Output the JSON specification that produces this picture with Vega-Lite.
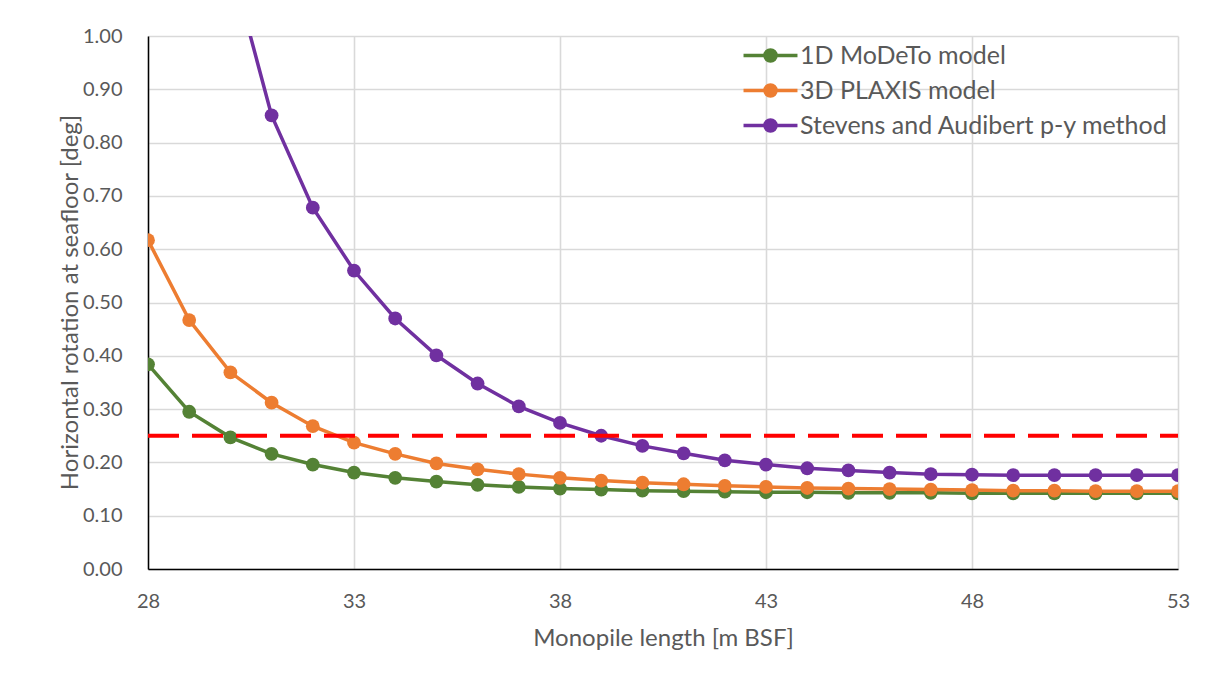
{
  "$schema": "https://vega.github.io/schema/vega-lite/v6.json",
  "width": 1030,
  "height": 533,
  "autosize": "none",
  "padding": {"left": 148, "top": 36, "right": 33, "bottom": 111},
  "background": "white",
  "config": {
    "font": "Lato",
    "view": {"stroke": null},
    "axis": {
      "labelFont": "Lato",
      "labelFontSize": 20,
      "labelColor": "#595959",
      "labelFlush": false,
      "labelOverlap": false,
      "titleFont": "Lato",
      "titleFontSize": 24,
      "titleFontWeight": "normal",
      "titleColor": "#595959",
      "gridColor": "#D9D9D9",
      "gridWidth": 1.6,
      "domainColor": "#000000",
      "domainWidth": 1.5,
      "ticks": false,
      "tickSize": 0
    },
    "legend": {
      "labelFont": "Lato",
      "labelFontSize": 25,
      "labelColor": "#595959",
      "labelLimit": 500
    }
  },
  "datasets": {
    "series": [
      {"length": 28, "model": "1D MoDeTo model", "rotation": 0.384},
      {"length": 29, "model": "1D MoDeTo model", "rotation": 0.295},
      {"length": 30, "model": "1D MoDeTo model", "rotation": 0.247},
      {"length": 31, "model": "1D MoDeTo model", "rotation": 0.216},
      {"length": 32, "model": "1D MoDeTo model", "rotation": 0.196},
      {"length": 33, "model": "1D MoDeTo model", "rotation": 0.181},
      {"length": 34, "model": "1D MoDeTo model", "rotation": 0.171},
      {"length": 35, "model": "1D MoDeTo model", "rotation": 0.164},
      {"length": 36, "model": "1D MoDeTo model", "rotation": 0.158},
      {"length": 37, "model": "1D MoDeTo model", "rotation": 0.154},
      {"length": 38, "model": "1D MoDeTo model", "rotation": 0.151},
      {"length": 39, "model": "1D MoDeTo model", "rotation": 0.149},
      {"length": 40, "model": "1D MoDeTo model", "rotation": 0.147},
      {"length": 41, "model": "1D MoDeTo model", "rotation": 0.146},
      {"length": 42, "model": "1D MoDeTo model", "rotation": 0.145},
      {"length": 43, "model": "1D MoDeTo model", "rotation": 0.144},
      {"length": 44, "model": "1D MoDeTo model", "rotation": 0.144},
      {"length": 45, "model": "1D MoDeTo model", "rotation": 0.143},
      {"length": 46, "model": "1D MoDeTo model", "rotation": 0.143},
      {"length": 47, "model": "1D MoDeTo model", "rotation": 0.143},
      {"length": 48, "model": "1D MoDeTo model", "rotation": 0.142},
      {"length": 49, "model": "1D MoDeTo model", "rotation": 0.142},
      {"length": 50, "model": "1D MoDeTo model", "rotation": 0.142},
      {"length": 51, "model": "1D MoDeTo model", "rotation": 0.142},
      {"length": 52, "model": "1D MoDeTo model", "rotation": 0.142},
      {"length": 53, "model": "1D MoDeTo model", "rotation": 0.142},
      {"length": 28, "model": "3D PLAXIS model", "rotation": 0.617},
      {"length": 29, "model": "3D PLAXIS model", "rotation": 0.467},
      {"length": 30, "model": "3D PLAXIS model", "rotation": 0.369},
      {"length": 31, "model": "3D PLAXIS model", "rotation": 0.312},
      {"length": 32, "model": "3D PLAXIS model", "rotation": 0.268},
      {"length": 33, "model": "3D PLAXIS model", "rotation": 0.237},
      {"length": 34, "model": "3D PLAXIS model", "rotation": 0.216},
      {"length": 35, "model": "3D PLAXIS model", "rotation": 0.198},
      {"length": 36, "model": "3D PLAXIS model", "rotation": 0.187},
      {"length": 37, "model": "3D PLAXIS model", "rotation": 0.178},
      {"length": 38, "model": "3D PLAXIS model", "rotation": 0.171},
      {"length": 39, "model": "3D PLAXIS model", "rotation": 0.166},
      {"length": 40, "model": "3D PLAXIS model", "rotation": 0.162},
      {"length": 41, "model": "3D PLAXIS model", "rotation": 0.159},
      {"length": 42, "model": "3D PLAXIS model", "rotation": 0.156},
      {"length": 43, "model": "3D PLAXIS model", "rotation": 0.154},
      {"length": 44, "model": "3D PLAXIS model", "rotation": 0.152},
      {"length": 45, "model": "3D PLAXIS model", "rotation": 0.151},
      {"length": 46, "model": "3D PLAXIS model", "rotation": 0.150},
      {"length": 47, "model": "3D PLAXIS model", "rotation": 0.149},
      {"length": 48, "model": "3D PLAXIS model", "rotation": 0.148},
      {"length": 49, "model": "3D PLAXIS model", "rotation": 0.147},
      {"length": 50, "model": "3D PLAXIS model", "rotation": 0.147},
      {"length": 51, "model": "3D PLAXIS model", "rotation": 0.146},
      {"length": 52, "model": "3D PLAXIS model", "rotation": 0.146},
      {"length": 53, "model": "3D PLAXIS model", "rotation": 0.146},
      {"length": 30, "model": "Stevens and Audibert p-y method", "rotation": 1.14},
      {"length": 31, "model": "Stevens and Audibert p-y method", "rotation": 0.851},
      {"length": 32, "model": "Stevens and Audibert p-y method", "rotation": 0.678},
      {"length": 33, "model": "Stevens and Audibert p-y method", "rotation": 0.560},
      {"length": 34, "model": "Stevens and Audibert p-y method", "rotation": 0.470},
      {"length": 35, "model": "Stevens and Audibert p-y method", "rotation": 0.401},
      {"length": 36, "model": "Stevens and Audibert p-y method", "rotation": 0.348},
      {"length": 37, "model": "Stevens and Audibert p-y method", "rotation": 0.305},
      {"length": 38, "model": "Stevens and Audibert p-y method", "rotation": 0.274},
      {"length": 39, "model": "Stevens and Audibert p-y method", "rotation": 0.250},
      {"length": 40, "model": "Stevens and Audibert p-y method", "rotation": 0.231},
      {"length": 41, "model": "Stevens and Audibert p-y method", "rotation": 0.217},
      {"length": 42, "model": "Stevens and Audibert p-y method", "rotation": 0.204},
      {"length": 43, "model": "Stevens and Audibert p-y method", "rotation": 0.196},
      {"length": 44, "model": "Stevens and Audibert p-y method", "rotation": 0.189},
      {"length": 45, "model": "Stevens and Audibert p-y method", "rotation": 0.185},
      {"length": 46, "model": "Stevens and Audibert p-y method", "rotation": 0.181},
      {"length": 47, "model": "Stevens and Audibert p-y method", "rotation": 0.178},
      {"length": 48, "model": "Stevens and Audibert p-y method", "rotation": 0.177},
      {"length": 49, "model": "Stevens and Audibert p-y method", "rotation": 0.176},
      {"length": 50, "model": "Stevens and Audibert p-y method", "rotation": 0.176},
      {"length": 51, "model": "Stevens and Audibert p-y method", "rotation": 0.176},
      {"length": 52, "model": "Stevens and Audibert p-y method", "rotation": 0.176},
      {"length": 53, "model": "Stevens and Audibert p-y method", "rotation": 0.176}
    ],
    "limit": [
      {"length": 28, "rotation": 0.25},
      {"length": 53, "rotation": 0.25}
    ]
  },
  "encoding": {
    "x": {
      "field": "length",
      "type": "quantitative",
      "scale": {"domain": [28, 53], "nice": false, "zero": false},
      "axis": {
        "title": "Monopile length [m BSF]",
        "values": [28, 33, 38, 43, 48, 53],
        "labelPadding": 32,
        "labelBaseline": "middle",
        "titleX": 515,
        "titleY": 69,
        "titleBaseline": "middle",
        "titleAnchor": "middle"
      }
    },
    "y": {
      "field": "rotation",
      "type": "quantitative",
      "scale": {"domain": [0, 1], "nice": false, "zero": true},
      "axis": {
        "title": "Horizontal rotation at seafloor [deg]",
        "values": [0, 0.1, 0.2, 0.3, 0.4, 0.5, 0.6, 0.7, 0.8, 0.9, 1.0],
        "format": ".2f",
        "labelPadding": 26,
        "titleX": -78,
        "titleY": 266,
        "titleAngle": -90,
        "titleBaseline": "middle",
        "titleAlign": "center"
      }
    }
  },
  "layer": [
    {
      "data": {"name": "series"},
      "mark": {"type": "line", "strokeWidth": 3.5, "clip": true},
      "encoding": {
        "color": {
          "field": "model",
          "type": "nominal",
          "scale": {
            "domain": ["1D MoDeTo model", "3D PLAXIS model", "Stevens and Audibert p-y method"],
            "range": ["#548235", "#ED7D31", "#7030A0"]
          },
          "legend": {
            "title": null,
            "orient": "none",
            "legendX": 610,
            "legendY": 7,
            "padding": 0,
            "rowPadding": 8,
            "symbolType": "M-4.15,0L4.15,0M-0.85,0A0.85,0.85,0,1,1,0.85,0A0.85,0.85,0,1,1,-0.85,0Z",
            "symbolSize": 169,
            "symbolStrokeWidth": 3.5,
            "labelOffset": 17,
            "encode": {
              "symbols": {
                "update": {
                  "fill": {"scale": "color", "field": "value"},
                  "stroke": {"scale": "color", "field": "value"},
                  "opacity": {"value": 1}
                }
              }
            }
          }
        }
      }
    },
    {
      "data": {"name": "series"},
      "mark": {"type": "point", "filled": true, "size": 190, "opacity": 1, "clip": true},
      "encoding": {
        "color": {"field": "model", "type": "nominal"}
      }
    },
    {
      "data": {"name": "limit"},
      "mark": {"type": "line", "color": "#FF0000", "strokeWidth": 4, "strokeDash": [31, 13]},
      "encoding": {}
    }
  ]
}
